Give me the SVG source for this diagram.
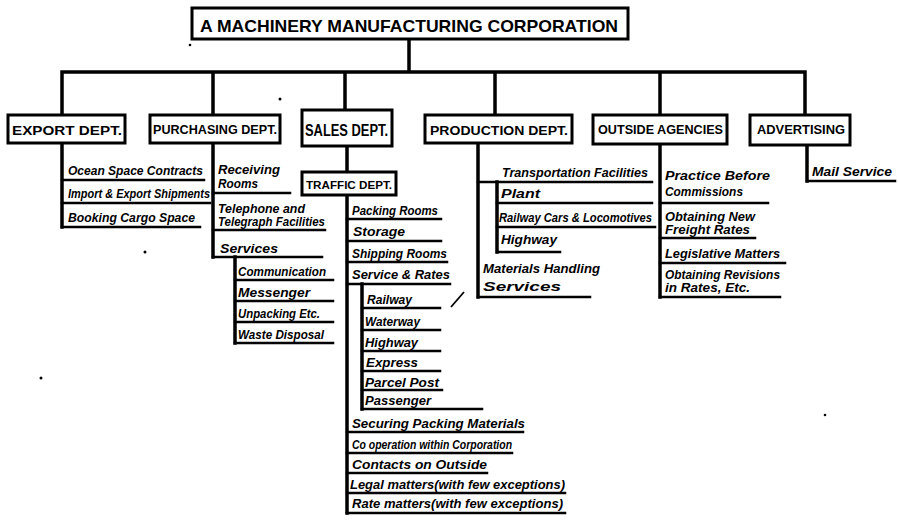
<svg xmlns="http://www.w3.org/2000/svg" width="898" height="524" viewBox="0 0 898 524">
<style>
.bg{fill:#fff}
.box{fill:#fff;stroke:#000;stroke-width:3}
.ln{stroke:#000;stroke-width:3.5;fill:none;stroke-linecap:square}
.ul{stroke:#000;stroke-width:2.5;fill:none;stroke-linecap:square}
.hd{font-family:"Liberation Sans",Arial,sans-serif;font-weight:bold;fill:#000}
.it{font-family:"Liberation Sans",Arial,sans-serif;font-weight:bold;font-style:italic;font-size:12px;fill:#000}
.dot{fill:#000}
</style>
<rect class="bg" x="0" y="0" width="898" height="524"/>

<g id="connectors">
  <!-- main tree -->
  <path class="ln" d="M409,39 V72 M62,72 H805 M62,72 V115 M213,72 V115 M345,72 V110 M495,72 V115 M660,72 V115 M805,72 V115"/>
  <!-- export -->
  <path class="ln" d="M62,143 V227"/>
  <path class="ul" d="M62,180 H204 M62,203 H210 M62,227 H200"/>
  <!-- purchasing -->
  <path class="ln" d="M213,143 V257 M235,257 V343"/>
  <path class="ul" d="M213,193 H290 M213,230 H325 M213,257 H322 M235,280 H333 M235,301 H333 M235,322 H333 M235,343 H333"/>
  <!-- sales -->
  <path class="ln" d="M347,146 V172 M347,195 V513 M362,284 V409"/>
  <path class="ul" d="M347,219 H441 M347,241 H441 M347,262 H447 M347,284 H450 M362,308 H440 M362,330 H440 M362,351 H440 M362,371 H440 M362,390 H442 M362,409 H482 M347,432 H523 M347,453 H512 M347,473 H487 M347,493 H565 M347,513 H565"/>
  <!-- production -->
  <path class="ln" d="M478,143 V297 M497,182 V252"/>
  <path class="ul" d="M478,182 H652 M497,203 H652 M497,227 H655 M497,252 H560 M478,297 H590"/>
  <!-- outside agencies -->
  <path class="ln" d="M660,144 V297"/>
  <path class="ul" d="M660,203 H768 M660,238 H755 M660,263 H785 M660,297 H780"/>
  <!-- advertising -->
  <path class="ln" d="M807,145 V181"/>
  <path class="ul" d="M807,181 H895"/>
</g>

<g id="corp">
  <rect class="box" x="192" y="8" width="436" height="31"/>
  <text class="hd" x="200" y="32" font-size="17" textLength="418" lengthAdjust="spacingAndGlyphs">A MACHINERY MANUFACTURING CORPORATION</text>
</g>
<g id="export">
  <rect class="box" x="8" y="115" width="117" height="28"/>
  <text class="hd" x="12" y="135" font-size="13" textLength="110" lengthAdjust="spacingAndGlyphs">EXPORT DEPT.</text>
</g>
<g id="purchasing">
  <rect class="box" x="150" y="115" width="130" height="28"/>
  <text class="hd" x="153" y="134" font-size="12" textLength="124" lengthAdjust="spacingAndGlyphs">PURCHASING DEPT.</text>
</g>
<g id="sales">
  <rect class="box" x="302" y="110" width="90" height="36"/>
  <text class="hd" x="305" y="136" font-size="16" textLength="83" lengthAdjust="spacingAndGlyphs">SALES DEPT.</text>
</g>
<g id="production">
  <rect class="box" x="425" y="115" width="147" height="28"/>
  <text class="hd" x="430" y="135" font-size="13" textLength="138" lengthAdjust="spacingAndGlyphs">PRODUCTION DEPT.</text>
</g>
<g id="outside">
  <rect class="box" x="593" y="115" width="134" height="29"/>
  <text class="hd" x="598" y="134" font-size="13" textLength="125" lengthAdjust="spacingAndGlyphs">OUTSIDE AGENCIES</text>
</g>
<g id="advertising">
  <rect class="box" x="750" y="115" width="100" height="30"/>
  <text class="hd" x="757" y="134" font-size="12" textLength="88" lengthAdjust="spacingAndGlyphs">ADVERTISING</text>
</g>
<g id="traffic">
  <rect class="box" x="302" y="172" width="94" height="23"/>
  <text class="hd" x="306" y="189" font-size="11" textLength="86" lengthAdjust="spacingAndGlyphs">TRAFFIC DEPT.</text>
</g>

<g id="export-items">
  <text class="it" x="68" y="175" textLength="135" lengthAdjust="spacingAndGlyphs">Ocean Space Contracts</text>
  <text class="it" x="68" y="198" font-size="11" textLength="142" lengthAdjust="spacingAndGlyphs">Import &amp; Export Shipments</text>
  <text class="it" x="68" y="222" textLength="127" lengthAdjust="spacingAndGlyphs">Booking Cargo Space</text>
</g>
<g id="purchasing-items">
  <text class="it" x="218" y="174" textLength="62" lengthAdjust="spacingAndGlyphs">Receiving</text>
  <text class="it" x="218" y="188" textLength="40" lengthAdjust="spacingAndGlyphs">Rooms</text>
  <text class="it" x="218" y="213" font-size="11" textLength="87" lengthAdjust="spacingAndGlyphs">Telephone and</text>
  <text class="it" x="218" y="226" font-size="11" textLength="107" lengthAdjust="spacingAndGlyphs">Telegraph Facilities</text>
  <text class="it" x="220" y="253" textLength="58" lengthAdjust="spacingAndGlyphs">Services</text>
  <text class="it" x="238" y="276" textLength="88" lengthAdjust="spacingAndGlyphs">Communication</text>
  <text class="it" x="238" y="297" font-size="13" textLength="72" lengthAdjust="spacingAndGlyphs">Messenger</text>
  <text class="it" x="238" y="318" font-size="11" textLength="82" lengthAdjust="spacingAndGlyphs">Unpacking Etc.</text>
  <text class="it" x="238" y="339" font-size="11" textLength="86" lengthAdjust="spacingAndGlyphs">Waste Disposal</text>
</g>
<g id="traffic-items">
  <text class="it" x="352" y="215" font-size="11" textLength="86" lengthAdjust="spacingAndGlyphs">Packing Rooms</text>
  <text class="it" x="353" y="236" textLength="52" lengthAdjust="spacingAndGlyphs">Storage</text>
  <text class="it" x="352" y="258" font-size="11" textLength="95" lengthAdjust="spacingAndGlyphs">Shipping Rooms</text>
  <text class="it" x="352" y="279" textLength="98" lengthAdjust="spacingAndGlyphs">Service &amp; Rates</text>
  <text class="it" x="367" y="304" font-size="10" textLength="45" lengthAdjust="spacingAndGlyphs">Railway</text>
  <text class="it" x="365" y="326" font-size="11" textLength="55" lengthAdjust="spacingAndGlyphs">Waterway</text>
  <text class="it" x="365" y="347" font-size="10" textLength="53" lengthAdjust="spacingAndGlyphs">Highway</text>
  <text class="it" x="366" y="367" textLength="52" lengthAdjust="spacingAndGlyphs">Express</text>
  <text class="it" x="365" y="387" font-size="11" textLength="74" lengthAdjust="spacingAndGlyphs">Parcel Post</text>
  <text class="it" x="365" y="405" font-size="11" textLength="66" lengthAdjust="spacingAndGlyphs">Passenger</text>
  <text class="it" x="352" y="428" font-size="11" textLength="173" lengthAdjust="spacingAndGlyphs">Securing Packing Materials</text>
  <text class="it" x="352" y="449" font-size="10" textLength="160" lengthAdjust="spacingAndGlyphs">Co operation within Corporation</text>
  <text class="it" x="352" y="469" font-size="11" textLength="135" lengthAdjust="spacingAndGlyphs">Contacts on Outside</text>
  <text class="it" x="350" y="489" font-size="11" textLength="215" lengthAdjust="spacingAndGlyphs">Legal matters(with few exceptions)</text>
  <text class="it" x="352" y="508" font-size="11" textLength="211" lengthAdjust="spacingAndGlyphs">Rate matters(with few exceptions)</text>
</g>
<g id="production-items">
  <text class="it" x="502" y="177" font-size="10" textLength="146" lengthAdjust="spacingAndGlyphs">Transportation Facilities</text>
  <text class="it" x="501" y="198" font-size="11" textLength="39" lengthAdjust="spacingAndGlyphs">Plant</text>
  <text class="it" x="499" y="222" font-size="10" textLength="153" lengthAdjust="spacingAndGlyphs">Railway Cars &amp; Locomotives</text>
  <text class="it" x="501" y="244" font-size="10" textLength="56" lengthAdjust="spacingAndGlyphs">Highway</text>
  <text class="it" x="483" y="273" textLength="117" lengthAdjust="spacingAndGlyphs">Materials Handling</text>
  <text class="it" x="483" y="291" font-size="15" font-style="normal" textLength="78" lengthAdjust="spacingAndGlyphs">Services</text>
</g>
<g id="outside-items">
  <text class="it" x="665" y="180" textLength="105" lengthAdjust="spacingAndGlyphs">Practice Before</text>
  <text class="it" x="665" y="196" font-size="10" textLength="78" lengthAdjust="spacingAndGlyphs">Commissions</text>
  <text class="it" x="665" y="221" font-size="11" textLength="90" lengthAdjust="spacingAndGlyphs">Obtaining New</text>
  <text class="it" x="665" y="234" font-size="11" textLength="85" lengthAdjust="spacingAndGlyphs">Freight Rates</text>
  <text class="it" x="665" y="258" textLength="115" lengthAdjust="spacingAndGlyphs">Legislative Matters</text>
  <text class="it" x="665" y="279" font-size="11" textLength="115" lengthAdjust="spacingAndGlyphs">Obtaining Revisions</text>
  <text class="it" x="665" y="292" font-size="11" textLength="85" lengthAdjust="spacingAndGlyphs">in Rates, Etc.</text>
</g>
<g id="advertising-items">
  <text class="it" x="812" y="176" textLength="80" lengthAdjust="spacingAndGlyphs">Mail Service</text>
</g>

<g id="specks">
  <circle class="dot" cx="190" cy="45" r="1.3"/>
  <circle class="dot" cx="280" cy="99" r="1.5"/>
  <circle class="dot" cx="145" cy="252" r="1.5"/>
  <circle class="dot" cx="41" cy="378" r="1.5"/>
  <circle class="dot" cx="825" cy="415" r="1.3"/>
  <path d="M451,307 L464,292" stroke="#000" stroke-width="1.8" fill="none"/>
</g>
</svg>
